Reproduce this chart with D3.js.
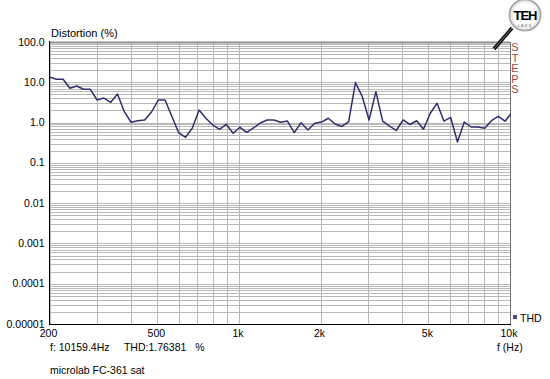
<!DOCTYPE html>
<html><head><meta charset="utf-8">
<script src="https://cdn.jsdelivr.net/npm/d3@7/dist/d3.min.js"></script>
<style>
body{margin:0;background:#fff;}
svg text{font-family:"Liberation Sans",Arial,sans-serif;}
</style></head>
<body><svg id="c" width="550" height="379"></svg>
<script>
// Frequencies (Hz), 1/12-octave steps
const freqs = [200,211.9,224.5,237.8,252.0,267.0,282.8,299.7,317.5,336.4,356.4,377.6,400,423.8,449.0,475.7,504.0,534.0,565.7,599.3,635.0,672.7,712.7,755.1,800,847.6,898.0,951.4,1008,1068,1131,1199,1270,1345,1425,1510,1600,1695,1796,1903,2016,2136,2263,2397,2540,2691,2851,3020,3200,3390,3592,3805,4032,4271,4525,4794,5080,5382,5702,6041,6400,6781,7184,7611,8063,8543,9051,9589,10159.4];
// THD (%) values
const thd = [13.5,11.9,11.9,7.1,8.1,6.7,6.7,3.63,4.07,3.19,5.12,1.86,1.02,1.11,1.16,1.83,3.63,3.63,1.42,0.561,0.431,0.721,2.05,1.28,0.871,0.681,0.906,0.542,0.763,0.574,0.734,0.977,1.16,1.16,1.02,1.09,0.561,0.99,0.655,0.96,1.03,1.28,0.92,0.80,1.05,9.9,4.39,1.16,5.84,1.09,0.82,0.636,1.16,0.896,1.11,0.681,1.70,3.01,1.09,1.34,0.33,1.03,0.776,0.776,0.721,1.11,1.43,1.08,1.764];
const yTicks = [100,10,1,0.1,0.01,0.001,0.0001,0.00001];
const yTickLabels = ["100.0","10.0","1.0","0.1","0.01","0.001","0.0001","0.00001"];
const xTicks = [200,500,1000,2000,5000,10000];
const xTickLabels = ["200","500","1k","2k","5k","10k"];
const cursorText = "f: 10159.4Hz     THD:1.76381   %";
const title = "microlab FC-361 sat";

const svg = d3.select("#c");
const L=49.5, R=510, T=42, B=324;
const x = d3.scaleLog().domain([200,10000]).range([L,R]);
const y = d3.scaleLog().domain([0.00001,100]).range([B,T]);

// grid
const g = svg.append("g");
const vlines=[];
for(let d=100; d<=1000; d*=10) for(let m=1;m<=10;m++){const v=d*m; if(v>=200&&v<=10000&&!vlines.includes(v)) vlines.push(v);}
g.selectAll(".v").data(vlines).join("line")
 .attr("x1",d=>Math.round(x(d))+0.5).attr("x2",d=>Math.round(x(d))+0.5).attr("y1",T).attr("y2",B)
 .attr("stroke","#b8b8b8").attr("stroke-width",1);
const hlines=[];
for(let e=-5;e<2;e++) for(let m=1;m<10;m++) hlines.push(m*Math.pow(10,e));
hlines.push(100);
g.selectAll(".h").data(hlines).join("line")
 .attr("x1",L).attr("x2",R).attr("y1",d=>Math.round(y(d))+0.5).attr("y2",d=>Math.round(y(d))+0.5)
 .attr("stroke","#b8b8b8").attr("stroke-width",1);
// top line
g.append("line").attr("x1",L).attr("x2",R).attr("y1",T+0.5).attr("y2",T+0.5).attr("stroke","#909090").attr("stroke-width",2);
// right border
g.append("line").attr("x1",R+0.5).attr("x2",R+0.5).attr("y1",T).attr("y2",B).attr("stroke","#707070");
// axes
g.append("line").attr("x1",L).attr("x2",L).attr("y1",T-1).attr("y2",B+1).attr("stroke","#000");
g.append("line").attr("x1",L).attr("x2",R+1).attr("y1",B+0.5).attr("y2",B+0.5).attr("stroke","#000");

// data line
svg.append("clipPath").attr("id","clip").append("rect").attr("x",L).attr("y",T).attr("width",R-L+1).attr("height",B-T);
const data = freqs.map((f,i)=>[f,thd[i]]);
svg.append("path").datum(data).attr("clip-path","url(#clip)")
 .attr("d",d3.line().x(d=>x(d[0])).y(d=>y(d[1])))
 .attr("fill","none").attr("stroke","#2f2f6e").attr("stroke-width",1.5).attr("stroke-linejoin","round");

// y labels
svg.selectAll(".yl").data(yTicks).join("text")
 .attr("x",L-5).attr("y",d=>y(d)+3.5).attr("text-anchor","end").attr("font-size",10.5).attr("fill","#000")
 .text((d,i)=>yTickLabels[i]);
// x labels
svg.selectAll(".xl").data(xTicks).join("text")
 .attr("x",d=>x(d)-1).attr("y",B+12.5).attr("text-anchor","middle").attr("font-size",10.5).attr("fill","#000")
 .text((d,i)=>xTickLabels[i]);

svg.append("text").attr("x",51).attr("y",36.5).attr("font-size",11).text("Distortion (%)");
svg.append("text").attr("x",50).attr("y",350.5).attr("font-size",10.5).attr("xml:space","preserve").style("white-space","pre").text(cursorText);
svg.append("text").attr("x",497).attr("y",351).attr("font-size",10.5).text("f (Hz)");
svg.append("text").attr("x",50).attr("y",374).attr("font-size",10.5).text(title);

// legend
svg.append("rect").attr("x",513).attr("y",315).attr("width",4).attr("height",4).attr("fill","#4a4a8a");
svg.append("text").attr("x",520).attr("y",322).attr("font-size",10.5).text("THD");

// STEPS
const steps = ["S","T","E","P","S"];
svg.selectAll(".st").data(steps).join("text")
 .attr("x",515).attr("y",(d,i)=>51+i*10.5).attr("text-anchor","middle").attr("font-size",11).attr("fill","#a04848").text(d=>d);

// logo
const lg = svg.append("g");
lg.append("line").attr("x1",494).attr("y1",49).attr("x2",512).attr("y2",28).attr("stroke","#000").attr("stroke-width",3.5);
lg.append("line").attr("x1",494).attr("y1",49).attr("x2",512).attr("y2",28).attr("stroke","#888").attr("stroke-width",1);
lg.append("circle").attr("cx",525).attr("cy",15).attr("r",15.5).attr("fill","#fff").attr("stroke","#aaa").attr("stroke-width",2);
lg.append("circle").attr("cx",525).attr("cy",15).attr("r",13.5).attr("fill","#fff").attr("stroke","#ddd").attr("stroke-width",1);
lg.append("text").attr("x",525).attr("y",20).attr("text-anchor","middle").attr("font-size",13).attr("font-weight","bold").attr("fill","#000").attr("letter-spacing",-1).text("TEH");
lg.append("text").attr("x",525).attr("y",27).attr("text-anchor","middle").attr("font-size",4).attr("fill","#666").attr("letter-spacing",1).text("LABS");
</script></body></html>
